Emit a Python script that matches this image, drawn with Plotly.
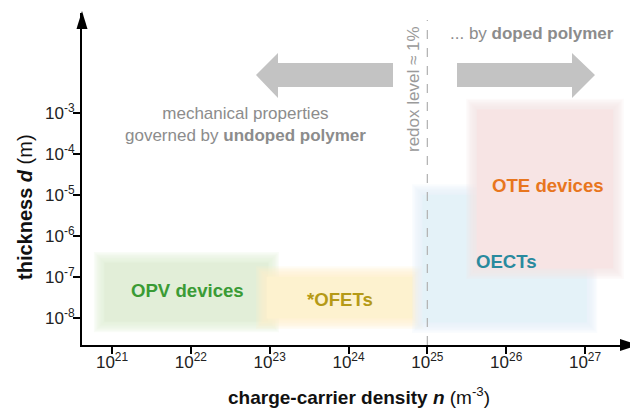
import plotly.graph_objects as go
import math

# ---- data ----
x_ticks = [1e21, 1e22, 1e23, 1e24, 1e25, 1e26, 1e27]
x_ticktext = ["10<sup>21</sup>", "10<sup>22</sup>", "10<sup>23</sup>", "10<sup>24</sup>",
              "10<sup>25</sup>", "10<sup>26</sup>", "10<sup>27</sup>"]
y_ticks = [1e-8, 1e-7, 1e-6, 1e-5, 1e-4, 1e-3]
y_ticktext = ["10<sup>-8</sup>", "10<sup>-7</sup>", "10<sup>-6</sup>", "10<sup>-5</sup>",
              "10<sup>-4</sup>", "10<sup>-3</sup>"]

device_names = ["OPV devices", "*OFETs", "OECTs", "OTE devices"]
n_min = [7e20, 8e22, 7.6e24, 3.7e25]
n_max = [1.1e23, 7.5e24, 1.2e27, 2.6e27]
d_min = [6.3e-9, 7.5e-9, 6e-9, 1.25e-7]
d_max = [2.9e-7, 1.3e-7, 1.3e-5, 1.6e-3]
fill_colors = ["#e2eed8", "#fdf2cf", "#e4f2f8", "#f7e4e4"]
label_colors = ["#3a9b35", "#b59a17", "#2a8a9e", "#e8761e"]
label_n = [8.94e21, 7.8e23, 9.95e25, 3.4e26]
label_d = [4.6e-8, 2.75e-8, 2.35e-7, 1.75e-5]

redox_n = 1e25

# ---- layout constants ----
PAGE_OFF = 8                    # default body margin of the html page
W, H = 630, 400                 # figure size so that it fits inside the window
L, T = 74, 5
PW, PH = 553, 332
R, B = W - L - PW, H - T - PH
x_range = [20.619, 27.634]
y_range = [-8.659, -0.561]
px_per_dec_x = PW / (x_range[1] - x_range[0])
px_per_dec_y = PH / (y_range[1] - y_range[0])
FONT = "Liberation Sans, Arial, sans-serif"


def pp(px, py):
    """page pixel -> paper coordinates"""
    return (px - PAGE_OFF - L) / PW, (T + PH - (py - PAGE_OFF)) / PH


def poly_path(pts):
    return "M " + " L ".join(f"{pp(x, y)[0]:.5f},{pp(x, y)[1]:.5f}" for x, y in pts) + " Z"


fig = go.Figure()
fig.add_trace(go.Scatter(x=[1e22], y=[1e-5], mode="markers", marker=dict(opacity=0),
                         hoverinfo="skip", showlegend=False))

shapes = []
# blurred rectangles
offsets = [6, 4.5, 3, 1.5, 0, -1.5, -3, -4.5]
for i in range(len(device_names)):
    for k, off in enumerate(offsets):
        dx = off / px_per_dec_x
        dy = off / px_per_dec_y
        op = 0.2 if k < len(offsets) - 1 else 1.0
        shapes.append(dict(
            type="rect", xref="x", yref="y", layer="below",
            x0=n_min[i] * 10 ** (-dx), x1=n_max[i] * 10 ** dx,
            y0=d_min[i] * 10 ** (-dy), y1=d_max[i] * 10 ** dy,
            fillcolor=fill_colors[i], opacity=op, line=dict(width=0)))

# dashed redox line
shapes.append(dict(type="line", xref="x", yref="paper", x0=redox_n, x1=redox_n,
                   y0=0, y1=pp(0, 20)[1], line=dict(color="#b5b5b5", width=1.3, dash="dash"),
                   layer="above"))

# grey arrows
gray = "#c3c3c3"
shapes.append(dict(type="path", xref="paper", yref="paper", fillcolor=gray, line=dict(width=0),
                   path=poly_path([(256, 75), (278, 53), (278, 63), (393, 63), (393, 87),
                                   (278, 87), (278, 98)])))
shapes.append(dict(type="path", xref="paper", yref="paper", fillcolor=gray, line=dict(width=0),
                   path=poly_path([(457, 63), (572, 63), (572, 53), (595, 75), (572, 98),
                                   (572, 87), (457, 87)])))

# axis arrowheads
shapes.append(dict(type="path", xref="paper", yref="paper", fillcolor="black", line=dict(width=0),
                   path=poly_path([(76.5, 29), (87.5, 29), (82, 11)])))
shapes.append(dict(type="path", xref="paper", yref="paper", fillcolor="black", line=dict(width=0),
                   path=poly_path([(620, 339), (620, 351), (638, 345)])))

annotations = []
for i in range(len(device_names)):
    annotations.append(dict(x=math.log10(label_n[i]), y=math.log10(label_d[i]),
                            xref="x", yref="y", text=f"<b>{device_names[i]}</b>",
                            showarrow=False, xanchor="center", yanchor="middle",
                            font=dict(family=FONT, size=18.6, color=label_colors[i])))

txt_gray = "#8c8c8c"
annotations += [
    dict(x=24.818, y=-2.415, xref="x", yref="y", text="redox level \u2248 1%", textangle=-90,
         showarrow=False, xanchor="center", yanchor="middle",
         font=dict(family=FONT, size=17, color="#9a9a9a")),
    dict(x=26.33, y=-1.05, xref="x", yref="y", text="... by <b>doped polymer</b>",
         showarrow=False, xanchor="center", yanchor="middle",
         font=dict(family=FONT, size=17, color=txt_gray)),
    dict(x=22.687, y=-3.29, xref="x", yref="y",
         text="mechanical properties<br>governed by <b>undoped polymer</b>",
         showarrow=False, align="center", xanchor="center", yanchor="middle",
         font=dict(family=FONT, size=17, color=txt_gray)),
    dict(x=pp(359, 0)[0], y=pp(0, 396)[1], xref="paper", yref="paper",
         text="<b>charge-carrier density <i>n</i></b> (m<sup>-3</sup>)", showarrow=False,
         xanchor="center", yanchor="middle",
         font=dict(family=FONT, size=19, color="#111")),
    dict(x=pp(25, 0)[0], y=pp(0, 207)[1], xref="paper", yref="paper",
         text="<b>thickness <i>d</i></b> (m)", textangle=-90, showarrow=False,
         xanchor="center", yanchor="middle",
         font=dict(family=FONT, size=20, color="#111")),
]

fig.update_layout(
    width=W, height=H, margin=dict(l=L, r=R, t=T, b=B, autoexpand=False),
    paper_bgcolor="white", plot_bgcolor="white", showlegend=False,
    shapes=shapes, annotations=annotations,
    xaxis=dict(type="log", range=x_range, tickvals=x_ticks, ticktext=x_ticktext,
               showgrid=False, zeroline=False, showline=True, linecolor="black", linewidth=2,
               ticks="outside", ticklen=7, tickwidth=2, tickcolor="black",
               ticklabelstandoff=-6,
               tickfont=dict(family=FONT, size=17, color="#222")),
    yaxis=dict(type="log", range=y_range, tickvals=y_ticks, ticktext=y_ticktext,
               showgrid=False, zeroline=False, showline=True, linecolor="black", linewidth=2,
               ticks="outside", ticklen=7, tickwidth=2, tickcolor="black",
               ticklabelstandoff=-5,
               tickfont=dict(family=FONT, size=17, color="#222")),
)

fig.write_html("out.html")
